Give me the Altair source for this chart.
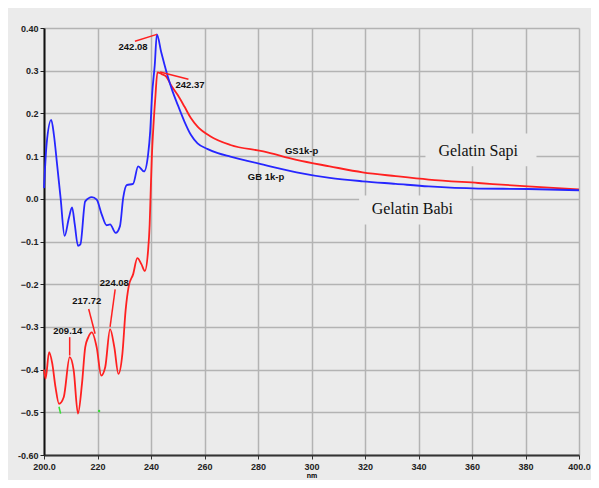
import altair as alt
import pandas as pd

# Blue curve: Gelatin Babi (GB 1k-p)
blue_x = [200.0, 201.0, 202.7, 203.7, 204.9, 206.2, 207.7, 209.3, 210.5, 211.5, 212.7,
          213.6, 215.4, 217.9, 219.7, 221.6, 223.4, 224.7, 226.8, 228.4, 229.6, 230.9, 233.3,
          235.2, 237.4, 238.9, 239.7, 240.4, 241.4, 242.2, 243.8, 245.1, 246.3, 248.1, 250.0,
          252.5, 254.9, 257.4, 261.0, 265.0, 269.7, 276.0, 282.0, 294.4, 306.8, 319.1, 331.5,
          343.8, 362.3, 380.9, 400.0]
blue_y = [0.025, 0.130, 0.185, 0.150, 0.080, 0.002, -0.087, -0.045, -0.020, -0.060, -0.110,
          -0.107, -0.006, 0.004, -0.002, -0.037, -0.062, -0.060, -0.080, -0.064, 0.002, 0.032, 0.035,
          0.076, 0.064, 0.103, 0.158, 0.243, 0.313, 0.385, 0.344, 0.313, 0.286, 0.251, 0.220,
          0.181, 0.150, 0.130, 0.117, 0.107, 0.099, 0.089, 0.080, 0.062, 0.049, 0.041, 0.035,
          0.029, 0.024, 0.023, 0.020]

# Red curve: Gelatin Sapi (GS1k-p)
red_x = [200.0, 200.6, 201.9, 203.1, 204.3, 205.6, 207.4, 209.6, 211.1, 212.7, 214.2, 215.4,
         216.5, 217.9, 219.7, 221.4, 222.9, 224.7, 226.3, 227.8, 229.3, 230.5, 231.7, 233.3,
         234.9, 236.4, 237.7, 238.9, 239.5, 239.9, 240.3, 241.0, 241.6, 242.4, 244.0, 245.7,
         247.5, 250.0, 252.5, 254.9, 257.4, 262.3, 269.7, 282.0, 294.4, 306.8, 319.1, 331.5,
         343.8, 362.3, 380.9, 400.0]
red_y = [-0.40, -0.421, -0.359, -0.386, -0.441, -0.480, -0.464, -0.371, -0.402, -0.503, -0.433, -0.348,
         -0.325, -0.313, -0.348, -0.414, -0.394, -0.305, -0.348, -0.410, -0.363, -0.262, -0.204, -0.177,
         -0.139, -0.153, -0.169, -0.122, -0.060, 0.020, 0.095, 0.180, 0.235, 0.296, 0.292, 0.286,
         0.266, 0.243, 0.216, 0.189, 0.169, 0.146, 0.126, 0.111, 0.091, 0.076, 0.062, 0.053,
         0.045, 0.037, 0.029, 0.022]

# Small green traces near the bottom
green_x = [205.6, 206.2]
green_y = [-0.487, -0.503]
green_dot_x = [220.6]
green_dot_y = [-0.497]

# Peak annotations
peak_text = ["242.08", "242.37", "209.14", "217.72", "224.08"]
peak_tx = [233.3, 254.6, 208.9, 216.0, 226.3]
peak_ty = [0.355, 0.266, -0.310, -0.239, -0.198]
lead_x1 = [234.0, 243.4, 209.6, 216.7, 226.6]
lead_y1 = [0.369, 0.297, -0.324, -0.258, -0.212]
lead_x2 = [242.2, 254.0, 209.6, 219.1, 224.7]
lead_y2 = [0.385, 0.280, -0.367, -0.316, -0.300]

# Series labels
series_text = ["GS1k-p", "GB 1k-p"]
series_tx = [296.3, 283.0]
series_ty = [0.112, 0.051]

# Text boxes
box_text = ["Gelatin Sapi", "Gelatin Babi"]
box_tx = [362.3, 337.7]
box_ty = [0.111, -0.025]
box_x1 = [342.6, 317.8]
box_x2 = [384.1, 359.3]
box_y1 = [0.153, 0.008]
box_y2 = [0.076, -0.060]

x_ticks = [200, 220, 240, 260, 280, 300, 320, 340, 360, 380, 400]
y_ticks = [-0.6, -0.5, -0.4, -0.3, -0.2, -0.1, 0.0, 0.1, 0.2, 0.3, 0.4]

BG = "#ebebeb"

xs = alt.Scale(domain=[200, 400], nice=False, zero=False)
ys = alt.Scale(domain=[-0.6, 0.4], nice=False, zero=False)

x_axis = alt.Axis(values=x_ticks, title="nm", titleFontSize=7, titlePadding=0,
                  labelExpr="datum.value == 200 ? '200.0' : datum.value == 400 ? '400.0' : format(datum.value, 'd')",
                  labelFontSize=9, labelFontWeight="bold", labelColor="#222222", labelPadding=3,
                  tickSize=4, tickColor="#333333", domainColor="#333333", domainWidth=2,
                  grid=True, gridColor="#b3b3b3", gridWidth=1.5, labelFlush=False)
y_axis = alt.Axis(values=y_ticks, title=None,
                  labelExpr="abs(datum.value - 0.4) < 0.001 ? '0.40' : abs(datum.value + 0.6) < 0.001 ? '-0.60' : format(datum.value, '.1f')",
                  labelFontSize=9, labelFontWeight="bold", labelColor="#222222", labelPadding=2,
                  tickSize=4, tickColor="#222222", domainColor="#111111", domainWidth=2,
                  grid=True, gridColor="#b3b3b3", gridWidth=1.5, labelFlush=False)

blue_df = pd.DataFrame({"x": blue_x, "y": blue_y})
red_df = pd.DataFrame({"x": red_x, "y": red_y})
green_df = pd.DataFrame({"x": green_x, "y": green_y})
green_dot_df = pd.DataFrame({"x": green_dot_x, "y": green_dot_y})
peak_df = pd.DataFrame({"t": peak_text, "x": peak_tx, "y": peak_ty})
lead_df = pd.DataFrame({"x": lead_x1, "y": lead_y1, "x2": lead_x2, "y2": lead_y2})
series_df = pd.DataFrame({"t": series_text, "x": series_tx, "y": series_ty})
box_df = pd.DataFrame({"t": box_text, "x": box_tx, "y": box_ty,
                       "bx": box_x1, "bx2": box_x2, "by": box_y1, "by2": box_y2})

base_axes = alt.Chart(blue_df).mark_line(opacity=0).encode(
    x=alt.X("x:Q", scale=xs, axis=x_axis),
    y=alt.Y("y:Q", scale=ys, axis=y_axis),
)

masks = alt.Chart(box_df).mark_rect(fill=BG).encode(
    x=alt.X("bx:Q", scale=xs), x2="bx2", y=alt.Y("by:Q", scale=ys), y2="by2")

red_line = alt.Chart(red_df).mark_line(color="#ff2020", strokeWidth=1.8, interpolate="monotone").encode(
    x=alt.X("x:Q", scale=xs), y=alt.Y("y:Q", scale=ys))
blue_line = alt.Chart(blue_df).mark_line(color="#2626ff", strokeWidth=1.8, interpolate="monotone").encode(
    x=alt.X("x:Q", scale=xs), y=alt.Y("y:Q", scale=ys))
green_line = alt.Chart(green_df).mark_line(color="#33dd33", strokeWidth=1.5).encode(
    x=alt.X("x:Q", scale=xs), y=alt.Y("y:Q", scale=ys))
green_dot = alt.Chart(green_dot_df).mark_circle(color="#33dd33", size=6, opacity=1).encode(
    x=alt.X("x:Q", scale=xs), y=alt.Y("y:Q", scale=ys))

leaders = alt.Chart(lead_df).mark_rule(color="#ff2020", strokeWidth=1.5).encode(
    x=alt.X("x:Q", scale=xs), y=alt.Y("y:Q", scale=ys), x2="x2", y2="y2")

peak_labels = alt.Chart(peak_df).mark_text(fontSize=9.5, fontWeight="bold", color="#111111",
                                           font="Liberation Sans").encode(
    x=alt.X("x:Q", scale=xs), y=alt.Y("y:Q", scale=ys), text="t:N")

series_labels = alt.Chart(series_df).mark_text(fontSize=9.5, fontWeight="bold", color="#111111",
                                               font="Liberation Sans").encode(
    x=alt.X("x:Q", scale=xs), y=alt.Y("y:Q", scale=ys), text="t:N")

box_labels = alt.Chart(box_df).mark_text(fontSize=16, color="#111111", font="Liberation Serif").encode(
    x=alt.X("x:Q", scale=xs), y=alt.Y("y:Q", scale=ys), text="t:N")

chart = alt.layer(base_axes, masks, red_line, green_line, green_dot, blue_line, leaders,
                  peak_labels, series_labels, box_labels).properties(
    width=535, height=427,
    padding={"left": 36, "top": 20, "right": 12, "bottom": 25},
    autosize=alt.AutoSizeParams(type="none"),
    background=BG,
).configure_view(strokeWidth=0).configure_axis(labelFont="Liberation Sans", titleFont="Liberation Sans")

chart.save("out.html", embed_options={"renderer": "svg", "actions": False})
